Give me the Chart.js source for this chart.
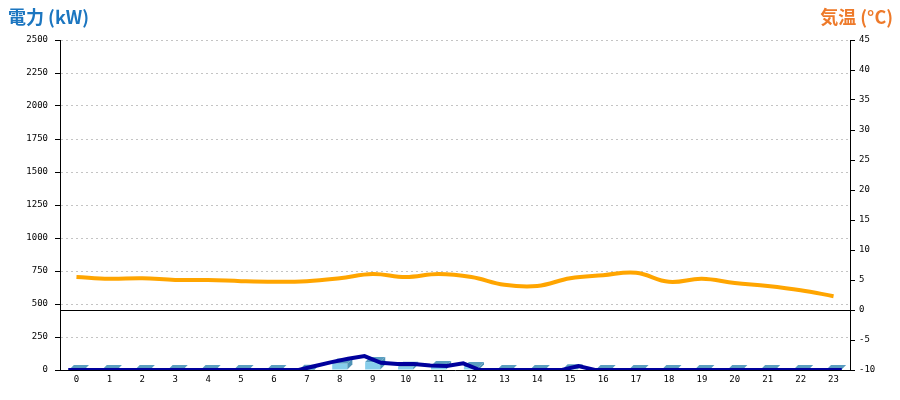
<!DOCTYPE html>
<html>
<head>
<meta charset="utf-8">
<script src="https://cdn.jsdelivr.net/npm/chart.js@4"></script>
<style>
  body { margin: 0; background: #fff; }
  #wrap { position: relative; width: 900px; height: 400px; }
  .ttl { position: absolute; top: 3px; font-family: "Noto Sans CJK JP", sans-serif; font-weight: bold; font-size: 18px; }
  #ttl-left { left: 8px; color: #1c76c0; }
  #ttl-right { right: 7px; color: #ee7a2a; }
</style>
</head>
<body>
<div id="wrap">
  <canvas id="chart"></canvas>
  <div class="ttl" id="ttl-left">電力 (kW)</div>
  <div class="ttl" id="ttl-right">気温 (°C)</div>
</div>
<script>
// 時間帯ラベル
const hours = ['0','1','2','3','4','5','6','7','8','9','10','11','12','13','14','15','16','17','18','19','20','21','22','23'];
const halfHours = ['0:00','0:30','1:00','1:30','2:00','2:30','3:00','3:30','4:00','4:30','5:00','5:30',
  '6:00','6:30','7:00','7:30','8:00','8:30','9:00','9:30','10:00','10:30','11:00','11:30',
  '12:00','12:30','13:00','13:30','14:00','14:30','15:00','15:30','16:00','16:30','17:00','17:30',
  '18:00','18:30','19:00','19:30','20:00','20:30','21:00','21:30','22:00','22:30','23:00','23:30'];

// 1時間ごとの電力量 (kW) - 棒
const hourlyPower = [0,0,0,0,0,0,0,2,50,60,25,30,22,0,0,5,0,0,0,0,0,0,0,0];
// 30分ごとの電力 (kW) - 線
const halfHourPower = [0,0,0,0,0,0,0,0,0,0,0,0,0,0,0,30,60,85,105,55,45,45,35,30,
  50,0,0,0,0,0,0,30,0,0,0,0,0,0,0,0,0,0,0,0,0,0,0,0];
// 気温 (°C)
const temperature = [5.5,5.2,5.3,5.0,5.0,4.8,4.7,4.8,5.3,6.0,5.5,6.0,5.5,4.2,4.0,5.3,5.8,6.2,4.7,5.2,4.5,4.0,3.3,2.3];

const tickFont = { family: 'DejaVu Sans Mono', size: 9 };

// 棒の上面・側面を描いて立体風にする
const bar3d = {
  id: 'bar3d',
  afterDatasetDraw(chart, args) {
    if (args.meta.type !== 'bar') return;
    const ctx = chart.ctx;
    const d = 5;
    ctx.save();
    args.meta.data.forEach(bar => {
      const { x, y, base, width } = bar.getProps(['x', 'y', 'base', 'width'], true);
      const l = x - width / 2, r = x + width / 2;
      ctx.fillStyle = '#5a9ec0';
      ctx.beginPath();
      ctx.moveTo(l, y); ctx.lineTo(r, y); ctx.lineTo(r + d, y - d); ctx.lineTo(l + d, y - d);
      ctx.closePath(); ctx.fill();
      ctx.fillStyle = '#4f93b5';
      ctx.beginPath();
      ctx.moveTo(r, y); ctx.lineTo(r + d, y - d); ctx.lineTo(r + d, base - d); ctx.lineTo(r, base);
      ctx.closePath(); ctx.fill();
    });
    ctx.restore();
  }
};

new Chart(document.getElementById('chart'), {
  type: 'bar',
  data: {
    labels: hours,
    datasets: [
      {
        type: 'line',
        data: halfHourPower,
        xAxisID: 'xh',
        yAxisID: 'y',
        borderColor: '#00009c',
        borderWidth: 4,
        pointRadius: 0,
        tension: 0,
        order: 0
      },
      {
        type: 'line',
        data: temperature,
        xAxisID: 'x',
        yAxisID: 'y1',
        borderColor: '#ffa500',
        borderWidth: 4,
        pointRadius: 0,
        tension: 0.4,
        order: 1
      },
      {
        type: 'bar',
        data: hourlyPower,
        xAxisID: 'x',
        yAxisID: 'y',
        backgroundColor: '#87ceeb',
        barPercentage: 0.46,
        categoryPercentage: 1,
        grouped: false,
        order: 2
      }
    ]
  },
  options: {
    responsive: true,
    maintainAspectRatio: false,
    animation: false,
    layout: { padding: { top: 40, left: 0, right: 0, bottom: 0 } },
    plugins: {
      legend: { display: false },
      tooltip: { enabled: false }
    },
    scales: {
      x: {
        type: 'category',
        position: 'bottom',
        offset: true,
        grid: { display: false, drawTicks: false },
        border: { display: true, color: '#000' },
        ticks: { color: '#000', font: tickFont, padding: 4, maxRotation: 0, autoSkip: false },
        afterFit: s => { s.height = 30; }
      },
      xh: {
        type: 'category',
        labels: halfHours,
        display: false,
        offset: true
      },
      y: {
        type: 'linear',
        position: 'left',
        min: 0,
        max: 2500,
        ticks: { stepSize: 250, color: '#000', font: tickFont, padding: 7, callback: v => String(v) },
        grid: { color: '#c4c4c4', tickColor: '#000', tickLength: 5 },
        border: { color: '#000', dash: [2, 3] },
        afterFit: s => { s.width = 60; }
      },
      y1: {
        type: 'linear',
        position: 'right',
        min: -10,
        max: 45,
        ticks: { stepSize: 5, color: '#000', font: tickFont, padding: 4, callback: v => String(v) },
        grid: {
          color: c => (c.tick && c.tick.value === 0 ? '#000' : 'rgba(0,0,0,0)'),
          tickColor: '#000',
          tickLength: 5
        },
        border: { color: '#000' },
        afterFit: s => { s.width = 50; }
      }
    }
  },
  plugins: [bar3d]
});
</script>
</body>
</html>
